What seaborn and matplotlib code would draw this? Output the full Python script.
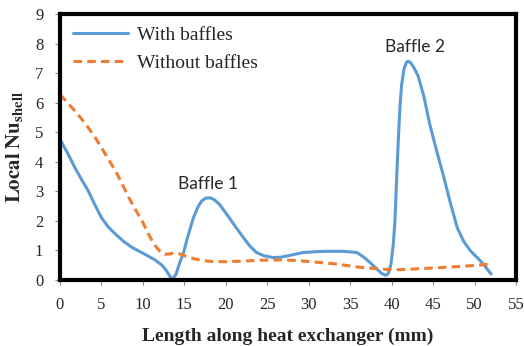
import matplotlib
matplotlib.use("Agg")
import matplotlib.pyplot as plt
import pandas as pd
import seaborn as sns

# Local shell-side Nusselt number along the exchanger
x_with = [0, 0.9, 1.8, 2.6, 3.4, 4.2, 5.0, 5.8, 6.7, 7.7, 8.7, 9.7, 10.7, 11.5,
          12.3, 12.8, 13.2, 13.6, 14.0, 14.4, 14.9, 15.5, 16.1, 16.6, 17.1,
          17.6, 18.1, 18.6, 19.2, 20.1, 21.1, 22.1, 22.9, 23.7, 24.6, 25.7,
          26.6, 27.5, 28.5, 29.4, 31.0, 32.6, 34.2, 35.8, 36.6, 37.4, 38.3,
          38.8, 39.3, 39.6, 39.9, 40.2, 40.4, 40.6, 40.8, 41.0, 41.2, 41.5,
          41.8, 42.0, 42.3, 42.7, 43.2, 43.9, 44.6, 45.4, 46.2, 47.0, 47.9,
          48.7, 49.5, 50.1, 50.7, 51.3, 52.0]
nu_with = [4.76, 4.30, 3.80, 3.40, 3.02, 2.55, 2.11, 1.80, 1.55, 1.30, 1.10,
           0.95, 0.80, 0.67, 0.50, 0.33, 0.15, 0.03, 0.20, 0.55, 0.93, 1.55,
           2.11, 2.45, 2.68, 2.77, 2.78, 2.72, 2.57, 2.23, 1.83, 1.44, 1.15,
           0.93, 0.82, 0.76, 0.77, 0.82, 0.88, 0.93, 0.96, 0.97, 0.97, 0.93,
           0.78, 0.59, 0.35, 0.22, 0.16, 0.22, 0.50, 1.20, 2.00, 3.40, 4.70,
           5.83, 6.60, 7.15, 7.37, 7.40, 7.35, 7.18, 6.90, 6.20, 5.27, 4.40,
           3.58, 2.70, 1.78, 1.30, 0.99, 0.82, 0.65, 0.45, 0.20]

x_without = [0, 0.9, 1.8, 2.6, 3.4, 4.2, 5.0, 5.8, 6.7, 7.5, 8.3, 9.1, 9.9,
             10.5, 11.1, 11.7, 12.2, 12.7, 13.2, 13.7, 14.2, 14.8, 15.3, 16.3,
             17.3, 18.7, 20.1, 22.2, 24.2, 26.5, 28.4, 30.2, 31.8, 33.4, 34.8,
             36.2, 37.4, 38.6, 40.0, 41.0, 42.6, 44.6, 46.7, 49.4, 52.0]
nu_without = [6.28, 6.00, 5.72, 5.45, 5.16, 4.84, 4.48, 4.10, 3.69, 3.25, 2.79,
              2.38, 2.00, 1.65, 1.33, 1.08, 0.93, 0.87, 0.88, 0.91, 0.90, 0.85,
              0.79, 0.71, 0.65, 0.62, 0.62, 0.64, 0.67, 0.68, 0.66, 0.62, 0.58,
              0.54, 0.48, 0.43, 0.40, 0.37, 0.35, 0.35, 0.37, 0.40, 0.43, 0.48,
              0.54]

x_ticks = [0, 5, 10, 15, 20, 25, 30, 35, 40, 45, 50, 55]
y_ticks = [0, 1, 2, 3, 4, 5, 6, 7, 8, 9]

baffle_labels = ["Baffle 1", "Baffle 2"]
baffle_pos = [(17.9, 3.25), (42.8, 7.88)]

sns.set_theme(style="white")
plt.rcParams["font.family"] = ["Liberation Serif", "DejaVu Serif"]
plt.rcParams["mathtext.fontset"] = "stix"

fig = plt.figure(figsize=(5.24, 3.46), dpi=100)
ax = fig.add_axes([0.1145, 0.1908, 0.8702, 0.7687])

df_with = pd.DataFrame({"x": x_with, "nu": nu_with})
df_without = pd.DataFrame({"x": x_without, "nu": nu_without})

sns.lineplot(data=df_with, x="x", y="nu", ax=ax, color="#5B9BD5",
             linewidth=2.2, label="With baffles", sort=False)
sns.lineplot(data=df_without, x="x", y="nu", ax=ax, color="#ED7D31",
             linewidth=2.2, label="Without baffles", sort=False)
for ln in ax.lines:
    ln.set_solid_joinstyle("round")
    ln.set_dash_joinstyle("round")
ax.lines[1].set_dashes([2.8, 1.7])

ax.set_xlim(0, 55)
ax.set_ylim(0, 9)
ax.set_xticks(x_ticks)
ax.set_yticks(y_ticks)
ax.tick_params(axis="both", which="major", direction="out", length=3.5,
               width=0.8, color="#888888", labelsize=12, pad=9,
               bottom=True, left=True)
ax.tick_params(axis="y", pad=8.5)

for side in ["left", "right", "top", "bottom"]:
    ax.spines[side].set_visible(True)
    ax.spines[side].set_color("black")
    ax.spines[side].set_linewidth(3)

ax.set_xlabel("Length along heat exchanger (mm)", fontsize=14,
              fontweight="bold", labelpad=10)
ax.set_ylabel(r"$\mathbf{Local\ Nu_{shell}}$", fontsize=15, labelpad=7)

for text, (bx, by) in zip(baffle_labels, baffle_pos):
    ax.text(bx, by, text, ha="center", va="center", fontsize=12.5,
            family=["Lato", "DejaVu Sans"])

leg = ax.legend(loc="upper left", frameon=False, fontsize=14,
                handlelength=2.85, handletextpad=0.46, labelspacing=0.5,
                borderaxespad=0.25)

fig.savefig("out.png", dpi=100)
